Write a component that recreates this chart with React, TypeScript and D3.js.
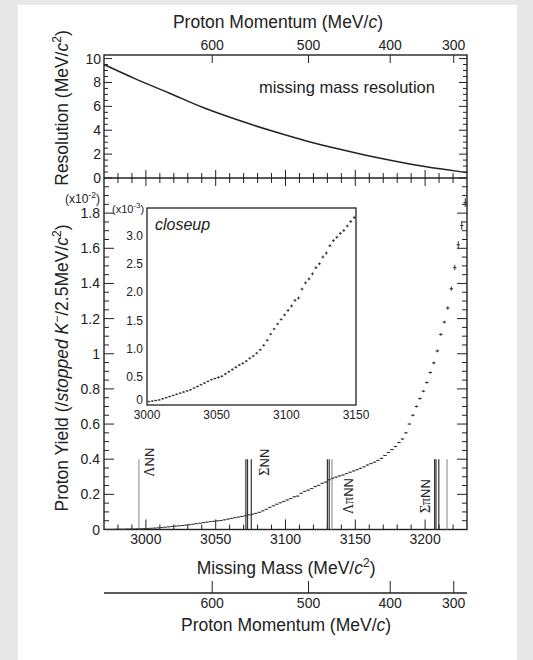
import React from 'react';
import * as d3 from 'd3';

// ---- data ----
const binStart = 2970;
const binWidth = 2.5;
// proton yield per 2.5 MeV bin (x10^-2 / stopped K-)
const yields = [
  0.001, 0.001, 0.001, 0.002, 0.002, 0.002, 0.003, 0.003, 0.003, 0.004, 0.004, 0.005,
  0.006, 0.007, 0.008, 0.009, 0.011, 0.013, 0.015, 0.017, 0.019, 0.021,
  0.023, 0.025, 0.027, 0.030, 0.033, 0.036, 0.039, 0.042, 0.045, 0.047,
  0.049, 0.051, 0.055, 0.059, 0.063, 0.067, 0.071, 0.074, 0.078, 0.083,
  0.087, 0.092, 0.098, 0.106, 0.115, 0.126, 0.135, 0.144, 0.152, 0.160,
  0.168, 0.176, 0.186, 0.190, 0.206, 0.217, 0.224, 0.233, 0.244, 0.251,
  0.263, 0.270, 0.283, 0.292, 0.298, 0.305, 0.310, 0.318, 0.326, 0.333,
  0.340, 0.348, 0.357, 0.367, 0.375, 0.383, 0.393, 0.405, 0.421, 0.438,
  0.455, 0.472, 0.495, 0.515, 0.55, 0.60, 0.65, 0.70, 0.745, 0.787,
  0.836, 0.893, 0.948, 1.016, 1.11, 1.18, 1.26, 1.37, 1.49, 1.62,
  1.73, 1.86,
];
const yieldErr = [
  0.001, 0.001, 0.001, 0.001, 0.001, 0.001, 0.001, 0.001, 0.001, 0.001, 0.001, 0.001,
  0.0015, 0.0015, 0.0015, 0.0015, 0.0015, 0.0015, 0.0015, 0.0015, 0.0015, 0.0015,
  0.0015, 0.0015, 0.0015, 0.0015, 0.0015, 0.0015, 0.0015, 0.0015, 0.0015, 0.0015,
  0.002, 0.002, 0.002, 0.002, 0.002, 0.002, 0.002, 0.002, 0.002, 0.002,
  0.002, 0.002, 0.002, 0.002, 0.002, 0.002, 0.002, 0.002, 0.002, 0.002,
  0.0025, 0.0025, 0.0025, 0.0025, 0.0025, 0.0025, 0.0025, 0.0025, 0.0025, 0.0025,
  0.0025, 0.0025, 0.0025, 0.0025, 0.0025, 0.0025, 0.0025, 0.0025, 0.0025, 0.0025,
  0.003, 0.003, 0.003, 0.003, 0.003, 0.003, 0.003, 0.003, 0.003, 0.003,
  0.004, 0.004, 0.004, 0.004, 0.004, 0.004, 0.006, 0.006, 0.006, 0.006,
  0.006, 0.006, 0.008, 0.008, 0.008, 0.008, 0.01, 0.012, 0.015, 0.02,
  0.025, 0.025,
];

// missing mass resolution (MeV/c^2) vs missing mass
const resMass = [2970, 2992.5, 3017, 3041, 3066, 3090, 3115, 3139, 3163.5, 3188, 3212, 3230];
const resValue = [9.5, 8.3, 7.1, 5.9, 4.85, 3.95, 3.1, 2.4, 1.75, 1.2, 0.75, 0.45];

// proton momentum tick labels and corresponding missing mass
const momentumTicks = [600, 500, 400, 300];
const momentumTickMass = [3047.5, 3116.5, 3175, 3220.5];

// thresholds
const thresholdMass = [2995, 3071.6, 3072.8, 3075.5, 3130, 3131.3, 3133.3, 3206.8, 3207.8, 3209.8, 3215.7];
const thresholdDark = [false, true, true, true, true, true, false, true, true, true, false];
const thresholdHeight = 0.4;
const thresholdNames = [
  ['Λ', 'NN'],
  ['Σ', 'NN'],
  ['Λπ', 'NN'],
  ['Σπ', 'NN'],
];

const mainYTicks = [0, 0.2, 0.4, 0.6, 0.8, 1, 1.2, 1.4, 1.6, 1.8];
const resYTicks = [0, 2, 4, 6, 8, 10];
const massTicks = [3000, 3050, 3100, 3150, 3200];
const insetXTicks = [3000, 3050, 3100, 3150];
const insetYTicks = [0, 0.5, 1.0, 1.5, 2.0, 2.5, 3.0];

const FONT = "'Liberation Sans', Arial, Helvetica, sans-serif";
const GREEK = "'Liberation Serif', 'Times New Roman', serif";
const INK = '#222';

export default function App() {
  const left = 104, right = 467;
  const topY = 55, midY = 178, botY = 529.5;
  const x = d3.scaleLinear().domain([2970, 3230]).range([left, right]);
  const yRes = d3.scaleLinear().domain([0, 10.3]).range([midY, topY]);
  const y = d3.scaleLinear().domain([0, 2.0]).range([botY, midY]);

  const inL = 147, inR = 356, inT = 208, inB = 405;
  const xi = d3.scaleLinear().domain([3000, 3150]).range([inL, inR]);
  const yi = d3.scaleLinear().domain([0, 3.5]).range([inB, inT]);

  const centers = yields.map((_, i) => binStart + binWidth * (i + 0.5));

  const resLine = d3.line<number>()
    .x((_, i) => x(resMass[i]))
    .y((d) => yRes(d))
    .curve(d3.curveMonotoneX);

  const lines: React.ReactNode[] = [];
  const tick = (x1: number, y1: number, x2: number, y2: number, k: string, w = 1) =>
    lines.push(<line key={k} x1={x1} y1={y1} x2={x2} y2={y2} stroke={INK} strokeWidth={w} />);

  // mass ticks on main bottom, main top / res bottom
  d3.range(2980, 3230, 10).forEach((m) => {
    const major = m % 50 === 0;
    const px = x(m);
    tick(px, botY, px, botY - (major ? 10 : 5), 'mb' + m);
    tick(px, midY, px, midY + (major ? 8 : 5), 'mt' + m);
    tick(px, midY, px, midY - (major ? 8 : 5), 'rb' + m);
  });
  // main y ticks
  d3.range(0, 41).forEach((i) => {
    const v = i * 0.05;
    if (v >= 2.0) return;
    const major = i % 4 === 0;
    const py = y(v);
    tick(left, py, left + (major ? 10 : 5), py, 'ml' + i);
    tick(right, py, right - (major ? 10 : 5), py, 'mr' + i);
  });
  // res y ticks
  d3.range(0, 21).forEach((i) => {
    const v = i * 0.5;
    const major = i % 4 === 0;
    const py = yRes(v);
    tick(left, py, left + (major ? 8 : 4), py, 'rl' + i);
    tick(right, py, right - (major ? 8 : 4), py, 'rr' + i);
  });
  // momentum ticks top
  momentumTickMass.forEach((m, i) => {
    tick(x(m), topY, x(m), topY + 8, 'pt' + i);
  });
  // bottom momentum axis
  const momY = 593;
  momentumTickMass.forEach((m, i) => {
    tick(x(m), momY, x(m), momY - 12, 'pb' + i);
  });
  // inset ticks
  d3.range(3010, 3150, 10).forEach((m) => {
    const major = m % 50 === 0;
    const px = xi(m);
    tick(px, inB, px, inB - (major ? 6 : 3), 'ib' + m);
    tick(px, inT, px, inT + (major ? 6 : 3), 'it' + m);
  });
  d3.range(1, 35).forEach((i) => {
    const v = i * 0.1;
    const major = i % 5 === 0;
    const py = yi(v);
    tick(inL, py, inL + (major ? 6 : 3), py, 'il' + i);
    tick(inR, py, inR - (major ? 6 : 3), py, 'ir' + i);
  });

  // data marks
  const mainPts = centers.map((c, i) => (
    <g key={'p' + i}>
      <line x1={x(c - binWidth / 2)} x2={x(c + binWidth / 2)} y1={y(yields[i])} y2={y(yields[i])} stroke="#333" strokeWidth={1} />
      <line x1={x(c)} x2={x(c)} y1={y(yields[i] - yieldErr[i])} y2={y(yields[i] + yieldErr[i])} stroke="#333" strokeWidth={1} />
    </g>
  ));
  const insetPts = centers
    .map((c, i) => ({ c, v: yields[i] * 10, e: yieldErr[i] * 10 }))
    .filter((d) => d.c > 3000 && d.c < 3150)
    .map((d, i) => (
      <g key={'ip' + i}>
        <line x1={xi(d.c - 1)} x2={xi(d.c + 1)} y1={yi(d.v)} y2={yi(d.v)} stroke="#333" strokeWidth={1} />
        <line x1={xi(d.c)} x2={xi(d.c)} y1={yi(d.v - d.e)} y2={yi(d.v + d.e)} stroke="#333" strokeWidth={1} />
      </g>
    ));

  const thrLines = thresholdMass.map((m, i) => (
    <line key={'th' + i} x1={x(m)} x2={x(m)} y1={y(0)} y2={y(thresholdHeight)}
      stroke={thresholdDark[i] ? '#333' : '#999'} strokeWidth={1.2} />
  ));
  const labelAnchors = [
    { m: 3005.8, v: 0.383 },
    { m: 3088.2, v: 0.383 },
    { m: 3148.4, v: 0.19 },
    { m: 3203.5, v: 0.19 },
  ];
  const thrLabels = thresholdNames.map((nm, i) => {
    const a = labelAnchors[i];
    return (
      <text key={'tl' + i} transform={`translate(${x(a.m)},${y(a.v)}) rotate(-90)`} textAnchor="middle"
        fontSize={13} fontFamily={FONT} fill="#222">
        <tspan fontFamily={GREEK} fontSize={14}>{nm[0]}</tspan>{nm[1]}
      </text>
    );
  });

  const titleTop = 3094.6;
  const titleBottom = 3100.4;

  return (
    <svg width={533} height={660} style={{ position: 'absolute', left: 0, top: 0 }} fontFamily={FONT}>
      <rect x={0} y={0} width={533} height={660} fill="#e8e8e8" />
      <rect x={18} y={5} width={499} height={655} fill="#ffffff" />

      {/* frames */}
      <rect x={left} y={topY} width={right - left} height={botY - topY} fill="none" stroke={INK} strokeWidth={1.4} />
      <line x1={left} x2={right} y1={midY} y2={midY} stroke={INK} strokeWidth={1.4} />
      {lines}

      {/* resolution curve */}
      <path d={resLine(resValue) || ''} fill="none" stroke="#222" strokeWidth={1.5} />
      <text x={x(3144)} y={yRes(7.1)} fontSize={16.5} textAnchor="middle" fill="#222">missing mass resolution</text>

      {/* res y labels */}
      {resYTicks.map((v) => (
        <text key={'ry' + v} x={left - 3} y={yRes(v) + 5} fontSize={14} textAnchor="end" fill="#222">{v}</text>
      ))}
      {/* top momentum labels */}
      {momentumTicks.map((p, i) => (
        <text key={'tm' + p} x={x(momentumTickMass[i])} y={50} fontSize={14} textAnchor="middle" fill="#222">{p}</text>
      ))}
      <text x={x(titleTop)} y={28} fontSize={17.5} textAnchor="middle" fill="#222">
        Proton Momentum (MeV/<tspan fontStyle="italic">c</tspan>)
      </text>
      <text transform={`translate(68,${108}) rotate(-90)`} fontSize={17.5} textAnchor="middle" fill="#222">
        Resolution (MeV/<tspan fontStyle="italic">c</tspan><tspan dy={-7} fontSize={12}>2</tspan><tspan dy={7}>)</tspan>
      </text>

      {/* main panel */}
      {thrLines}
      {thrLabels}
      {mainPts}
      {mainYTicks.map((v) => (
        <text key={'my' + v} x={left - 4} y={y(v) + 5} fontSize={14} textAnchor="end" fill="#222">{v}</text>
      ))}
      {massTicks.map((m) => (
        <text key={'mx' + m} x={x(m)} y={544} fontSize={14} textAnchor="middle" fill="#222">{m}</text>
      ))}
      <text x={65} y={203} fontSize={12} fill="#222">
        (x10<tspan dy={-5} fontSize={8.5}>-2</tspan><tspan dy={5}>)</tspan>
      </text>
      <text x={x(titleBottom)} y={574} fontSize={17.5} textAnchor="middle" fill="#222">
        Missing Mass (MeV/<tspan fontStyle="italic">c</tspan><tspan dy={-7} fontSize={12}>2</tspan><tspan dy={7}>)</tspan>
      </text>
      <text transform={`translate(68,${368}) rotate(-90)`} fontSize={17.5} textAnchor="middle" fill="#222">
        Proton Yield (/<tspan fontStyle="italic">stopped K</tspan><tspan dy={-7} fontSize={12}>−</tspan><tspan dy={7}>/2.5MeV/</tspan><tspan fontStyle="italic">c</tspan><tspan dy={-7} fontSize={12}>2</tspan><tspan dy={7}>)</tspan>
      </text>

      {/* inset */}
      <rect x={inL} y={inT} width={inR - inL} height={inB - inT} fill="#fff" stroke={INK} strokeWidth={1.3} />
      {insetPts}
      {insetYTicks.map((v) => (
        <text key={'iy' + v} x={inL - 4} y={v === 0 ? yi(v) - 1 : yi(v) + 4} fontSize={12} textAnchor="end" fill="#222">{v === 0 ? '0' : v.toFixed(1)}</text>
      ))}
      {insetXTicks.map((m) => (
        <text key={'ix' + m} x={xi(m)} y={419} fontSize={12} textAnchor="middle" fill="#222">{m}</text>
      ))}
      <text x={112} y={213} fontSize={11} fill="#222">
        (x10<tspan dy={-5} fontSize={8}>-3</tspan><tspan dy={5}>)</tspan>
      </text>
      <text x={155} y={230} fontSize={16} fontStyle="italic" fill="#222">closeup</text>

      {/* bottom momentum axis */}
      <line x1={left} x2={right} y1={momY} y2={momY} stroke={INK} strokeWidth={1.4} />
      {momentumTicks.map((p, i) => (
        <text key={'bm' + p} x={x(momentumTickMass[i])} y={608} fontSize={14} textAnchor="middle" fill="#222">{p}</text>
      ))}
      <text x={x(titleBottom)} y={631} fontSize={17.5} textAnchor="middle" fill="#222">
        Proton Momentum (MeV/<tspan fontStyle="italic">c</tspan>)
      </text>
    </svg>
  );
}
